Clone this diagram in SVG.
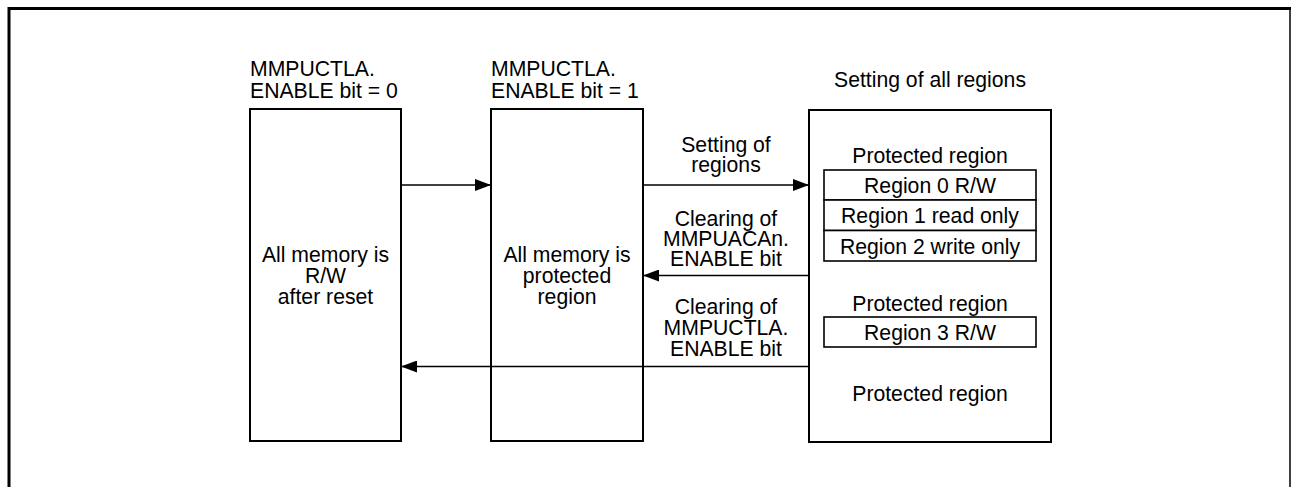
<svg xmlns="http://www.w3.org/2000/svg" width="1291" height="487" viewBox="0 0 1291 487">
<style>
text{font-family:"Liberation Sans",Arial,sans-serif;font-size:21.2px;fill:#000}
.c{text-anchor:middle}
.box{fill:#fff;stroke:#000;stroke-width:2}
.ln{fill:none;stroke:#000;stroke-width:1.6}
</style>
<defs>
<marker id="ah" markerUnits="userSpaceOnUse" markerWidth="16" markerHeight="12" refX="16" refY="6" orient="auto">
<path d="M0,0 L16,6 L0,12 Z" fill="#000"/>
</marker>
</defs>
<g id="frame">
<line x1="9" y1="8.5" x2="1291" y2="8.5" stroke="#000" stroke-width="3"/>
<line x1="9" y1="7" x2="9" y2="487" stroke="#000" stroke-width="3"/>
<line x1="1290" y1="8" x2="1290" y2="487" stroke="#000" stroke-width="1.5"/>
</g>
<g id="node-reset">
<text x="250" y="76">MMPUCTLA.</text>
<text x="250" y="98">ENABLE bit = 0</text>
<rect class="box" x="250" y="109" width="151" height="332"/>
<text class="c" x="325.5" y="262">All memory is</text>
<text class="c" x="325.5" y="283">R/W</text>
<text class="c" x="325.5" y="304">after reset</text>
</g>
<g id="node-enable">
<text x="491" y="76">MMPUCTLA.</text>
<text x="491" y="98">ENABLE bit = 1</text>
<rect class="box" x="491" y="109" width="152" height="332"/>
<text class="c" x="567" y="262">All memory is</text>
<text class="c" x="567" y="283">protected</text>
<text class="c" x="567" y="304">region</text>
</g>
<g id="node-all">
<text class="c" x="930" y="87">Setting of all regions</text>
<rect class="box" x="809" y="110" width="242" height="332"/>
<text class="c" x="930" y="163">Protected region</text>
<rect class="box" x="824" y="170" width="212" height="30" style="stroke-width:1.6"/>
<text class="c" x="930" y="193">Region 0 R/W</text>
<rect class="box" x="824" y="200" width="212" height="30.5" style="stroke-width:1.6"/>
<text class="c" x="930" y="223">Region 1 read only</text>
<rect class="box" x="824" y="230.5" width="212" height="30.5" style="stroke-width:1.6"/>
<text class="c" x="930" y="254">Region 2 write only</text>
<text class="c" x="930" y="310.5">Protected region</text>
<rect class="box" x="824" y="317" width="212" height="30" style="stroke-width:1.6"/>
<text class="c" x="930" y="340">Region 3 R/W</text>
<text class="c" x="930" y="401">Protected region</text>
</g>
<g id="connectors">
<line class="ln" x1="401" y1="185" x2="491" y2="185" marker-end="url(#ah)"/>
<line class="ln" x1="643" y1="185" x2="809" y2="185" marker-end="url(#ah)"/>
<text class="c" x="726" y="152">Setting of</text>
<text class="c" x="726" y="172">regions</text>
<line class="ln" x1="809" y1="275.5" x2="643" y2="275.5" marker-end="url(#ah)"/>
<text class="c" x="726" y="226">Clearing of</text>
<text class="c" x="726" y="246">MMPUACAn.</text>
<text class="c" x="726" y="266">ENABLE bit</text>
<line class="ln" x1="809" y1="366.5" x2="401" y2="366.5" marker-end="url(#ah)"/>
<text class="c" x="726" y="314">Clearing of</text>
<text class="c" x="726" y="335">MMPUCTLA.</text>
<text class="c" x="726" y="356">ENABLE bit</text>
</g>
</svg>
